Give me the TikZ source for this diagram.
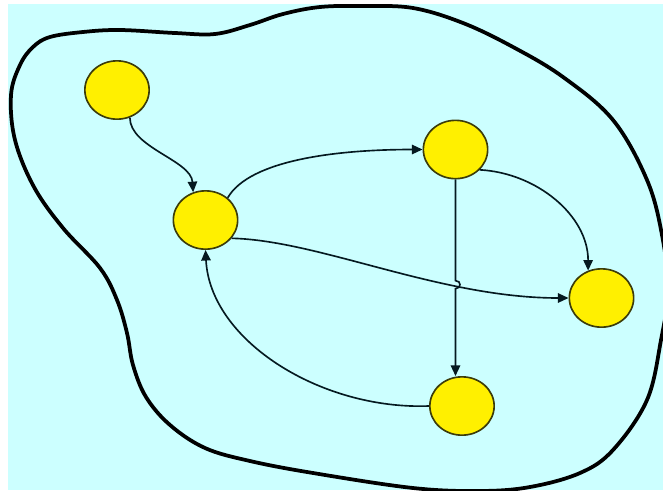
\documentclass[tikz,border=0pt]{standalone}
\usepackage{tikz}
\usetikzlibrary{arrows.meta,calc,shapes.geometric}
\definecolor{bgcyan}{RGB}{204,255,255}
\definecolor{vtxyellow}{RGB}{255,240,0}
\definecolor{vtxrim}{RGB}{60,60,10}
\definecolor{linkink}{RGB}{5,25,32}

\begin{document}
\begin{tikzpicture}[
    x=0.03cm, y=-0.03cm,
    vtx/.style={ellipse, draw=vtxrim, fill=vtxyellow, line width=1.4pt, minimum width=1.93cm, minimum height=1.75cm, inner sep=0pt},
    link/.style={draw=linkink, line width=1.4pt, -{Triangle[length=9pt, width=8pt]}},
    rim/.style={draw=black, line width=3.2pt, line join=round}
  ]
  % canvas
  \fill[white] (0,0) rectangle (663,490);
  \useasboundingbox (0,0) rectangle (663,490);
  \fill[bgcyan] (8,4) rectangle (663,490);
  \clip (0,0) rectangle (663,490);

  % outline of the region
  \draw[rim] plot[smooth cycle, tension=0.6] coordinates {
    (50,37) (83,32) (120,30) (175,33) (215,34) (250,25) (283,14) (320,7)
    (363,6) (413,8) (463,23) (513,47) (563,77) (613,120) (647,180)
    (662,235) (668,290) (661,340) (647,400) (613,450) (580,473) (530,487)
    (480,491) (413,488) (313,473) (250,461) (205,448) (170,425) (146,397)
    (133,365) (127,333) (117,300) (100,268) (63,228) (34,187) (15,140)
    (11,95) (20,65) (33,47)};

  % states
  \node[vtx] (a) at (117,90) {};
  \node[vtx] (b) at (205.5,220) {};
  \node[vtx] (c) at (455.5,149.5) {};
  \node[vtx] (d) at (601.5,298) {};
  \node[vtx] (e) at (462,406) {};

  % transitions
  \draw[link] (a.-65) .. controls +(0,30) and +(-2,-32) .. (b.114);
  \draw[link] (b.45) .. controls +(22,-38) and +(-85,0) .. (c.west);
  \draw[link] (c.-40) .. controls +(57,3) and +(0,-55) .. (d.116);
  \draw[link] (b.-35) .. controls +(88,2) and +(-129,0) .. (d.west);
  \draw[link] (e.west) .. controls +(-109,4) and +(4.5,90) .. (b.south);

  % vertical one, hopping over the crossing
  \coordinate (hop) at ($(c.south)!0.535!(c.south |- e.north)$);
  \draw[link] (c.south) -- ($(hop)+(0,-4)$)
    .. controls +(6,0) and +(6,0) .. ($(hop)+(0,4)$) -- (c.south |- e.north);
\end{tikzpicture}
\end{document}
